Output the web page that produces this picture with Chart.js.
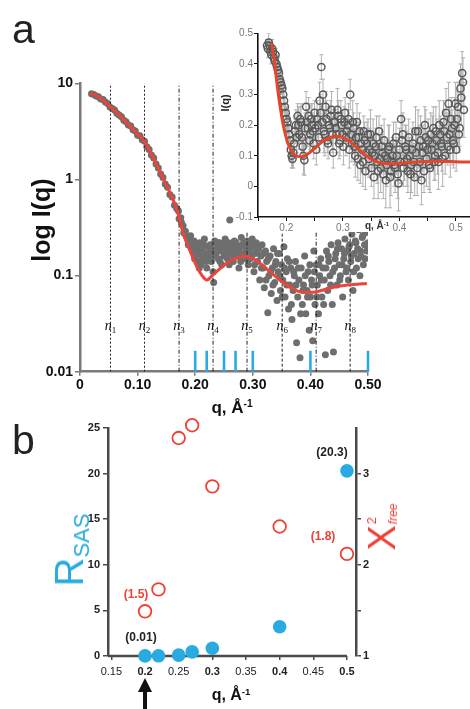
<!DOCTYPE html>
<html><head><meta charset="utf-8">
<script src="https://cdn.jsdelivr.net/npm/chart.js@4.4.1/dist/chart.umd.min.js"></script>
<style>
html,body{margin:0;padding:0;background:#fff;}
body{width:470px;height:709px;position:relative;overflow:hidden;font-family:"Liberation Sans",Arial,sans-serif;}
canvas{position:absolute;}
.t{position:absolute;white-space:nowrap;line-height:1;}
.c{transform:translate(-50%,-50%);}
.rot{transform:translate(-50%,-50%) rotate(-90deg);}
sup{font-size:60%;vertical-align:0;position:relative;top:-0.55em;}
</style></head>
<body>
<canvas id="ca" width="470" height="420" style="left:0;top:0"></canvas>
<canvas id="ci" width="246" height="224" style="left:234px;top:8px"></canvas>
<canvas id="cb" width="470" height="294" style="left:0;top:415px"></canvas>

<div class="t" style="left:12px;top:9px;font-size:41px;color:#222">a</div>
<div class="t" style="left:12px;top:420px;font-size:41px;color:#222">b</div>
<div class="t rot" style="left:41px;top:220px;font-size:25px;font-weight:bold;color:#111">log I(q)</div>
<div class="t c" style="left:232px;top:407px;font-size:17px;font-weight:bold;color:#111">q, Å<sup>-1</sup></div>
<div class="t rot" style="left:225px;top:103px;font-size:11px;font-weight:bold;color:#222">I(q)</div>
<div class="t c" style="left:377px;top:226px;font-size:10px;font-weight:bold;color:#333">q, Å<sup>-1</sup></div>
<div class="t c" style="left:231px;top:695px;font-size:16px;font-weight:bold;color:#111">q, Å<sup>-1</sup></div>
<div class="t rot" style="left:69px;top:550px;color:#29abe2"><span style="font-size:40px">R</span><span style="font-size:22px;position:relative;top:6px">SAS</span></div>
<div class="t rot" style="left:382px;top:527px;color:#ee4136"><span style="font-size:38px;vertical-align:middle">Χ</span><span style="display:inline-block;vertical-align:middle;line-height:1;text-align:left;margin-left:1px"><span style="font-size:13px;display:block">2</span><span style="font-size:12px;font-style:italic;display:block;margin-top:9px">free</span></span></div>

<script>
// ---------- Panel a: main SAXS profile (log scale) ----------
const dataQ = [0.020,0.024,0.028,0.032,0.036,0.040,0.044,0.048,0.052,0.056,0.060,0.064,0.068,0.072,0.076,0.080,0.084,0.088,0.092,0.096,0.100,0.104,0.108,0.112,0.116,0.120,0.124,0.128,0.132,0.136,0.140,0.144,0.148,0.152,0.156,0.160,0.164,0.168,0.172,0.176,0.180,0.184,0.188,
 0.192,0.194,0.196,0.198,0.200,0.202,0.204,0.206,0.208,0.210,
 0.212,0.214,0.216,0.218,0.220,0.222,0.224,0.226,0.228,0.230,
 0.232,0.234,0.236,0.238,0.240,0.242,0.244,0.246,0.248,0.250,
 0.252,0.254,0.256,0.258,0.260,0.262,0.264,0.266,0.268,0.270,
 0.272,0.274,0.276,0.278,0.280,0.282,0.284,0.286,0.288,0.290,
 0.292,0.294,0.296,0.298,0.300,0.302,0.304,0.306,0.308,0.310,
 0.312,0.314,0.316,0.318,0.320,0.322,0.324,0.326,0.328,0.330,
 0.332,0.334,0.336,0.338,0.340,0.342,0.344,0.346,0.348,0.350,
 0.352,0.354,0.356,0.358,0.360,0.362,0.364,0.366,0.368,0.370,
 0.372,0.374,0.376,0.378,0.380,0.382,0.384,0.386,0.388,0.390,
 0.392,0.394,0.396,0.398,0.400,0.402,0.404,0.406,0.408,0.410,
 0.412,0.414,0.416,0.418,0.420,0.422,0.424,0.426,0.428,0.430,
 0.432,0.434,0.436,0.438,0.440,0.442,0.444,0.446,0.448,0.450,
 0.452,0.454,0.456,0.458,0.460,0.462,0.464,0.466,0.468,0.470,
 0.472,0.474,0.476,0.478,0.480,0.482,0.484,0.486,0.488,0.490,
 0.492,0.494,0.496,0.498,0.500];
const dataI = [7.8,7.7,7.4,7.3,6.9,6.8,6.4,6.2,5.7,5.5,5.3,4.9,4.7,4.5,4.15,4.0,3.7,3.6,3.3,3.2,2.9,2.85,2.6,2.5,2.2,2.05,1.8,1.68,1.45,1.32,1.14,1.05,0.90,0.83,0.70,0.66,0.54,0.50,0.39,0.36,0.28,0.26,0.21,
 0.26,0.21,0.18,0.23,0.16,0.20,0.14,0.17,0.22,0.13,
 0.19,0.15,0.24,0.17,0.12,0.20,0.16,0.21,0.14,0.18,
 0.085,0.23,0.17,0.20,0.15,0.22,0.18,0.13,0.21,0.16,
 0.24,0.19,0.15,0.22,0.38,0.17,0.20,0.14,0.23,0.18,
 0.21,0.16,0.12,0.20,0.25,0.17,0.22,0.15,0.19,0.23,
 0.13,0.18,0.21,0.16,0.20,0.11,0.17,0.22,0.14,0.19,
 0.09,0.16,0.21,0.12,0.075,0.18,0.14,0.041,0.10,0.16,
 0.065,0.12,0.19,0.085,0.14,0.055,0.11,0.17,0.07,0.13,
 0.09,0.20,0.06,0.11,0.15,0.045,0.08,0.12,0.035,0.07,
 0.10,0.14,0.02,0.06,0.09,0.014,0.12,0.05,0.08,0.16,
 0.04,0.07,0.11,0.027,0.06,0.09,0.021,0.18,0.05,0.13,
 0.08,0.04,0.10,0.15,0.06,0.12,0.09,0.015,0.18,0.07,
 0.14,0.10,0.21,0.05,0.016,0.12,0.17,0.08,0.22,0.13,
 0.10,0.19,0.06,0.15,0.24,0.11,0.18,0.09,0.21,0.14,
 0.27,0.07,0.17,0.23,0.12,0.19,0.30,0.10,0.16,0.25,
 0.13,0.21,0.28,0.18,0.22];
// extra interleaved measured points (dense band between q = 0.19 and 0.30, and high-q cloud)
const dataQ2 = [0.171,0.175,0.179,0.183,0.187,0.191,0.195,0.199,0.203,0.207,0.211,0.215,0.219,0.223,0.227,0.231,0.235,0.239,0.243,0.247,
 0.251,0.255,0.259,0.263,0.267,0.271,0.275,0.279,0.283,0.287,0.291,0.295,0.299,0.303,0.307,0.311,0.315,0.319,0.323,0.327,
 0.331,0.335,0.339,0.343,0.347,0.351,0.355,0.359,0.363,0.367,0.371,0.375,0.379,0.383,0.387,0.391,0.395,0.399,0.403,0.407,
 0.411,0.415,0.419,0.423,0.427,0.431,0.435,0.439,0.443,0.447,0.451,0.455,0.459,0.463,0.467,0.471,0.475,0.479,0.483,0.487,
 0.491,0.495,0.499];
const dataI2 = [0.47,0.40,0.33,0.29,0.24,0.22,0.19,0.15,0.18,0.12,0.16,0.21,0.14,0.17,0.19,0.11,0.16,0.22,0.14,0.19,
 0.17,0.21,0.13,0.18,0.16,0.22,0.19,0.14,0.21,0.17,0.20,0.15,0.24,0.13,0.18,0.20,0.12,0.17,0.09,0.15,
 0.11,0.08,0.13,0.17,0.10,0.06,0.12,0.08,0.14,0.05,0.11,0.08,0.12,0.04,0.07,0.10,0.06,0.13,0.08,0.11,
 0.06,0.13,0.09,0.05,0.12,0.16,0.08,0.11,0.15,0.19,0.09,0.13,0.17,0.12,0.20,0.16,0.11,0.22,0.15,0.18,
 0.26,0.15,0.20];
const fitQ = [0.017,0.030,0.042,0.053,0.066,0.080,0.095,0.112,0.128,0.145,0.162,0.171,0.179,0.188,0.196,0.204,0.212,0.220,0.231,0.243,0.255,0.270,0.283,0.298,0.3125,0.330,0.347,0.365,0.382,0.400,0.411,0.430,0.451,0.475,0.498];
const fitI = [7.9,7.4,6.6,5.7,4.85,3.95,3.2,2.48,1.65,1.0,0.61,0.43,0.277,0.20,0.153,0.12,0.10,0.090,0.102,0.118,0.135,0.150,0.159,0.152,0.135,0.110,0.090,0.076,0.068,0.067,0.068,0.073,0.078,0.081,0.083];
const nQ = [0.053,0.112,0.172,0.231,0.290,0.351,0.410,0.469];       // n1..n8 shell positions
const nNames = ['1','2','3','4','5','6','7','8'];
const yTicksA = [0.01,0.1,1,10];
const xTicksA = [0,0.1,0.2,0.3,0.4,0.5];

// ---------- Inset: linear I(q) with error bars ----------
const insetQ = [0.166,0.169,0.172,0.175,0.178,0.181,0.184,0.187,0.190,0.193,
 0.196,0.199,0.202,0.205,0.208,0.211,0.214,0.217,0.220,0.223,
 0.226,0.229,0.232,0.235,0.238,0.241,0.244,0.247,0.250,0.253,
 0.256,0.259,0.262,0.265,0.268,0.271,0.274,0.277,0.280,0.283,
 0.286,0.289,0.292,0.295,0.298,0.301,0.304,0.307,0.310,0.313,
 0.316,0.319,0.322,0.325,0.328,0.331,0.334,0.337,0.340,0.343,
 0.346,0.349,0.352,0.355,0.358,0.361,0.364,0.367,0.370,0.373,
 0.376,0.379,0.382,0.385,0.388,0.391,0.394,0.397,0.400,0.403,
 0.406,0.409,0.412,0.415,0.418,0.421,0.424,0.427,0.430,0.433,
 0.436,0.439,0.442,0.445,0.448,0.451,0.454,0.457,0.460,0.463,
 0.466,0.469,0.472,0.475,0.478,0.481,0.484,0.487,0.490,0.493,
 0.496,0.499,0.502,0.505,0.508,0.511,0.514];
const insetI = [0.46,0.47,0.44,0.45,0.42,0.43,0.39,0.37,0.34,0.32,
 0.28,0.24,0.21,0.17,0.12,0.09,0.14,0.20,0.23,0.17,
 0.21,0.13,0.086,0.26,0.19,0.15,0.22,0.18,0.24,0.12,
 0.20,0.28,0.39,0.30,0.17,0.22,0.14,0.19,0.25,0.11,
 0.21,0.17,0.23,0.15,0.20,0.13,0.24,0.18,0.22,0.30,
 0.14,0.19,0.10,0.21,0.16,0.07,0.12,0.18,0.05,0.14,
 0.09,0.17,0.11,0.03,0.13,0.08,0.18,0.06,0.11,0.15,
 0.02,0.09,0.13,0.05,0.10,0.07,0.16,0.04,0.12,0.22,
 0.17,0.08,0.12,0.05,0.10,0.07,0.14,0.03,0.11,0.18,
 0.08,0.02,0.13,0.20,0.09,0.15,0.06,0.12,0.19,0.10,
 0.15,0.08,0.17,0.13,0.21,0.10,0.16,0.27,0.12,0.19,
 0.14,0.27,0.22,0.17,0.32,0.37,0.25];
const insetErr = [0.02,0.03,0.02,0.03,0.03,0.02,0.03,0.03,0.04,0.03,
 0.04,0.03,0.04,0.03,0.04,0.03,0.04,0.05,0.04,0.05,
 0.06,0.04,0.05,0.05,0.06,0.04,0.05,0.06,0.04,0.05,
 0.05,0.06,0.04,0.05,0.07,0.06,0.05,0.04,0.06,0.05,
 0.04,0.06,0.05,0.05,0.04,0.06,0.05,0.04,0.05,0.05,
 0.06,0.05,0.07,0.06,0.05,0.06,0.07,0.05,0.06,0.07,
 0.06,0.08,0.05,0.07,0.06,0.07,0.05,0.08,0.06,0.07,
 0.09,0.06,0.07,0.08,0.06,0.07,0.05,0.08,0.07,0.06,
 0.07,0.06,0.08,0.07,0.06,0.09,0.07,0.06,0.08,0.07,
 0.06,0.08,0.07,0.06,0.09,0.07,0.08,0.06,0.07,0.08,
 0.07,0.09,0.06,0.08,0.07,0.06,0.08,0.07,0.09,0.06,
 0.08,0.07,0.09,0.06,0.08,0.07,0.09];
const insetQ2 = [0.1675,0.1705,0.1735,0.1765,0.1795,0.1825,0.1855,0.1885,0.1915,0.1945,
 0.1975,0.2005,0.2035,0.2065,0.2095,0.2125,0.2155,0.2185,0.2215,0.2245,
 0.2275,0.2305,0.2335,0.2365,0.2395,0.2425,0.2455,0.2485,0.2515,0.2545,
 0.2575,0.2605,0.2635,0.2665,0.2695,0.2725,0.2755,0.2785,0.2815,0.2845,
 0.2875,0.2905,0.2935,0.2965,0.2995,0.3025,0.3055,0.3085,0.3115,0.3145,
 0.3175,0.3205,0.3235,0.3265,0.3295,0.3325,0.3355,0.3385,0.3415,0.3445,
 0.3475,0.3505,0.3535,0.3565,0.3595,0.3625,0.3655,0.3685,0.3715,0.3745,
 0.3775,0.3805,0.3835,0.3865,0.3895,0.3925,0.3955,0.3985,0.4015,0.4045,
 0.4075,0.4105,0.4135,0.4165,0.4195,0.4225,0.4255,0.4285,0.4315,0.4345,
 0.4375,0.4405,0.4435,0.4465,0.4495,0.4525,0.4555,0.4585,0.4615,0.4645,
 0.4675,0.4705,0.4735,0.4765,0.4795,0.4825,0.4855,0.4885,0.4915,0.4945,
 0.4975,0.5005,0.5035,0.5065,0.5095,0.5125];
const insetI2 = [0.45,0.46,0.43,0.44,0.41,0.40,0.38,0.35,0.33,0.30,
 0.26,0.22,0.19,0.15,0.10,0.11,0.18,0.16,0.20,0.22,
 0.16,0.10,0.19,0.21,0.23,0.17,0.20,0.14,0.19,0.22,
 0.16,0.24,0.21,0.18,0.26,0.15,0.20,0.23,0.17,0.21,
 0.19,0.25,0.14,0.22,0.17,0.21,0.16,0.20,0.12,0.17,
 0.21,0.13,0.16,0.09,0.18,0.14,0.08,0.15,0.11,0.17,
 0.12,0.06,0.14,0.10,0.16,0.05,0.09,0.13,0.04,0.10,
 0.07,0.12,0.03,0.08,0.14,0.06,0.10,0.01,0.08,0.15,
 0.06,0.13,0.09,0.16,0.04,0.12,0.08,0.18,0.06,0.13,
 0.15,0.11,0.05,0.16,0.12,0.07,0.17,0.14,0.08,0.18,
 0.11,0.20,0.14,0.09,0.18,0.24,0.13,0.17,0.22,0.15,
 0.20,0.12,0.26,0.19,0.29,0.34];
const insetErr2 = [0.03,0.02,0.03,0.02,0.03,0.03,0.04,0.03,0.03,0.04,
 0.03,0.04,0.04,0.05,0.04,0.05,0.04,0.05,0.06,0.04,
 0.05,0.06,0.05,0.04,0.06,0.05,0.07,0.05,0.04,0.06,
 0.05,0.06,0.05,0.07,0.05,0.04,0.06,0.05,0.06,0.04,
 0.05,0.07,0.05,0.06,0.04,0.05,0.06,0.05,0.06,0.05,
 0.07,0.06,0.05,0.07,0.06,0.05,0.08,0.06,0.07,0.05,
 0.07,0.06,0.08,0.06,0.07,0.09,0.06,0.07,0.08,0.06,
 0.07,0.08,0.10,0.06,0.07,0.08,0.06,0.09,0.07,0.08,
 0.06,0.07,0.09,0.06,0.08,0.07,0.06,0.08,0.09,0.07,
 0.08,0.06,0.07,0.09,0.06,0.08,0.07,0.09,0.06,0.08,
 0.07,0.08,0.06,0.09,0.07,0.08,0.06,0.09,0.07,0.08,
 0.09,0.07,0.08,0.06,0.09,0.08];
const insetFitQ = [0.174,0.178,0.182,0.186,0.190,0.194,0.199,0.204,0.212,0.220,0.227,0.235,0.245,0.255,0.265,0.276,0.287,0.298,0.310,0.320,0.330,0.340,0.350,0.362,0.374,0.390,0.405,0.425,0.445,0.465,0.490,0.515,0.533];
const insetFitI = [0.467,0.42,0.36,0.30,0.25,0.206,0.165,0.135,0.108,0.098,0.097,0.102,0.116,0.132,0.148,0.159,0.164,0.161,0.150,0.135,0.118,0.102,0.089,0.079,0.075,0.074,0.076,0.079,0.081,0.082,0.081,0.080,0.080];

// ---------- Panel b: R_SAS and chi^2_free vs q cut-off ----------
const bQ = [0.20,0.22,0.25,0.27,0.30,0.40,0.50];
const rsas = [0.01,0.02,0.10,0.45,0.85,3.2,20.3];
const chiFree = [1.49,1.73,3.39,3.53,2.86,2.42,2.12];
const rsasNotes = ['(0.01)','','','','','','(20.3)'];
const chiNotes = ['(1.5)','','','','','','(1.8)'];

Chart.defaults.font.family = '"Liberation Sans", Arial, sans-serif';
Chart.defaults.animation = false;

const FONT = '"Liberation Sans", Arial, sans-serif';
const BLUE = '#29abe2', RED = '#ee4136';

// ===== Panel a main =====
const nDash = [[2,2],[2,2],[4,2,1,2],[4,2,1,2],[4,2,1,2],[3,2],[4,2,1,2],[3,2]];
const nLabelLevel = 0.027, blueTop = 0.0165;
const nLabelPlugin = {
  id:'nLabels',
  afterDatasetsDraw(chart){
    const {ctx, scales:{x,y}} = chart;
    ctx.save(); ctx.fillStyle='#111'; ctx.textBaseline='alphabetic';
    nQ.forEach((q,i)=>{
      const px=x.getPixelForValue(q), py=y.getPixelForValue(nLabelLevel);
      ctx.font='italic 14px "Liberation Serif", serif'; const w1=ctx.measureText('n').width;
      ctx.font='9px "Liberation Serif", serif'; const w2=ctx.measureText(nNames[i]).width;
      const left=px-(w1+w2)/2;
      ctx.font='italic 14px "Liberation Serif", serif'; ctx.fillText('n',left,py);
      ctx.font='9px "Liberation Serif", serif'; ctx.fillText(nNames[i],left+w1,py+3);
    });
    ctx.restore();
  }
};
const greyDots = {type:'scatter', pointRadius:3.5, pointBackgroundColor:'#6e6e6e', pointBorderWidth:0, order:3};
const dsA = [
  {type:'line', data:fitQ.map((q,i)=>({x:q,y:fitI[i]})), borderColor:'#e8453c', borderWidth:3, pointRadius:0, cubicInterpolationMode:'monotone', order:0},
  Object.assign({data:dataQ.map((q,i)=>({x:q,y:dataI[i]}))}, greyDots),
  Object.assign({data:dataQ2.map((q,i)=>({x:q,y:dataI2[i]}))}, greyDots),
];
nQ.forEach((q,i)=>dsA.push({type:'line', data:[{x:q,y:0.01},{x:q,y:10}], borderColor:'#222', borderWidth:1, borderDash:nDash[i], pointRadius:0, order:2}));
bQ.forEach(q=>dsA.push({type:'line', data:[{x:q,y:0.01},{x:q,y:blueTop}], borderColor:BLUE, borderWidth:2.6, pointRadius:0, clip:false, order:1}));

new Chart(document.getElementById('ca'), {
  type:'scatter',
  data:{datasets:dsA},
  options:{
    responsive:false, animation:false,
    plugins:{legend:{display:false}, tooltip:{enabled:false}},
    layout:{padding:{left:0,right:102,top:83.5,bottom:0}},
    scales:{
      x:{type:'linear', min:0, max:0.5,
        afterFit(s){s.height=48.3;},
        afterBuildTicks(s){s.ticks=xTicksA.map(v=>({value:v}));},
        border:{display:true,color:'#7a7a7a',width:2.5},
        grid:{drawOnChartArea:false, drawTicks:true, tickLength:4, color:'#7a7a7a', lineWidth:1.5},
        ticks:{padding:1, color:'#111', font:{family:FONT,size:14,weight:'bold'}, maxRotation:0,
          callback:v=> v===0?'0':v.toFixed(2)}},
      y:{type:'logarithmic', min:0.01, max:10,
        afterFit(s){s.width=80;},
        afterBuildTicks(s){s.ticks=yTicksA.map(v=>({value:v}));},
        border:{display:true,color:'#7a7a7a',width:2.5},
        grid:{drawOnChartArea:false, drawTicks:true, tickLength:5, color:'#7a7a7a', lineWidth:1.5},
        ticks:{padding:2, color:'#111', font:{family:FONT,size:14,weight:'bold'},
          callback:v=>String(v)}}
    }
  },
  plugins:[nLabelPlugin]
});

// ===== Inset =====
const whiteBg = {id:'whiteBg', beforeDraw(c){const x=c.ctx; x.save(); x.fillStyle='#fff'; x.fillRect(0,0,c.width,c.height); x.restore();}};
function drawErr(ctx,x,y,qs,is,es){
  qs.forEach((q,i)=>{
    const px=x.getPixelForValue(q);
    const y1=y.getPixelForValue(is[i]-es[i]), y2=y.getPixelForValue(is[i]+es[i]);
    ctx.beginPath(); ctx.moveTo(px,y1); ctx.lineTo(px,y2);
    ctx.moveTo(px-2,y1); ctx.lineTo(px+2,y1); ctx.moveTo(px-2,y2); ctx.lineTo(px+2,y2); ctx.stroke();
  });
}
const errBars = {
  id:'errBars',
  beforeDatasetsDraw(chart){
    const {ctx, chartArea:a, scales:{x,y}} = chart;
    ctx.save(); ctx.beginPath(); ctx.rect(a.left,a.top,a.right-a.left,a.bottom-a.top); ctx.clip();
    ctx.strokeStyle='#b0b0b0'; ctx.lineWidth=1;
    drawErr(ctx,x,y,insetQ,insetI,insetErr);
    drawErr(ctx,x,y,insetQ2,insetI2,insetErr2);
    ctx.restore();
  }
};
const openCircles = {type:'scatter', pointRadius:3.6, pointBorderWidth:1.5, pointBorderColor:'#595959', pointBackgroundColor:'rgba(0,0,0,0)', order:1};
new Chart(document.getElementById('ci'), {
  type:'scatter',
  data:{datasets:[
    {type:'line', data:insetFitQ.map((q,i)=>({x:q,y:insetFitI[i]})), borderColor:'#e4462c', borderWidth:3, pointRadius:0, cubicInterpolationMode:'monotone', order:0},
    Object.assign({data:insetQ.map((q,i)=>({x:q,y:insetI[i]}))}, openCircles),
    Object.assign({data:insetQ2.map((q,i)=>({x:q,y:insetI2[i]}))}, openCircles)
  ]},
  options:{
    responsive:false, animation:false,
    plugins:{legend:{display:false}, tooltip:{enabled:false}},
    layout:{padding:{left:0,right:0,top:25.3,bottom:0}},
    scales:{
      x:{type:'linear', min:0.15, max:0.5328,
        afterFit(s){s.height=15;},
        border:{display:true,color:'#111',width:1.6},
        grid:{drawOnChartArea:false, tickLength:4, color:'#111', lineWidth:1},
        ticks:{stepSize:0.05, includeBounds:false, padding:1, color:'#777', font:{family:FONT,size:10}, maxRotation:0,
          callback:v=> (Math.round(v*100)%10===0)? (Math.round(v*10)/10).toFixed(1) : ''}},
      y:{type:'linear', min:-0.1, max:0.5,
        afterFit(s){s.width=24;},
        border:{display:true,color:'#111',width:1.6},
        grid:{drawOnChartArea:false, tickLength:4, color:'#111', lineWidth:1},
        ticks:{stepSize:0.1, padding:1, color:'#777', font:{family:FONT,size:10},
          callback:v=>{const r=Math.round(v*10)/10; return r===0?'0':r.toFixed(1);}}}
    }
  },
  plugins:[whiteBg, errBars]
});

// ===== Panel b =====
const bExtras = {
  id:'bExtras',
  beforeDatasetsDraw(chart){
    const {ctx, chartArea:a, scales:{x,y}} = chart;
    ctx.save(); ctx.strokeStyle='#4a4a4a'; ctx.lineWidth=2.5;
    const y0=y.getPixelForValue(0);
    ctx.beginPath(); ctx.moveTo(a.left,y0); ctx.lineTo(x.getPixelForValue(bQ[bQ.length-1]),y0); ctx.stroke();
    ctx.restore();
  },
  afterDatasetsDraw(chart){
    const {ctx, scales:{x,y,y2}} = chart;
    ctx.save(); ctx.textAlign='center'; ctx.textBaseline='middle';
    ctx.font='bold 12px '+FONT;
    ctx.fillStyle='#222';
    rsasNotes.forEach((t,i)=>{ if(!t) return; const dx = i===0?-4:-15;
      ctx.fillText(t, x.getPixelForValue(bQ[i])+dx, y.getPixelForValue(rsas[i])-18); });
    ctx.fillStyle=RED;
    chiNotes.forEach((t,i)=>{ if(!t) return; const dx = i===0?-9:-24;
      ctx.fillText(t, x.getPixelForValue(bQ[i])+dx, y2.getPixelForValue(chiFree[i])-17); });
    // arrow marking the chosen cut-off q
    const ax = x.getPixelForValue(bQ[0]); const tip = y.getPixelForValue(0)+22;
    ctx.fillStyle='#111';
    ctx.beginPath(); ctx.moveTo(ax,tip); ctx.lineTo(ax-7,tip+14); ctx.lineTo(ax+7,tip+14); ctx.closePath(); ctx.fill();
    ctx.fillRect(ax-2,tip+13,4,40);
    ctx.restore();
  }
};
new Chart(document.getElementById('cb'), {
  type:'scatter',
  data:{datasets:[
    {label:'chi2free', data:bQ.map((q,i)=>({x:q,y:chiFree[i]})), yAxisID:'y2', pointRadius:6.3, pointBorderWidth:1.8, pointBorderColor:RED, pointBackgroundColor:'rgba(255,255,255,0)', clip:false},
    {label:'Rsas', data:bQ.map((q,i)=>({x:q,y:rsas[i]})), yAxisID:'y', pointRadius:6.8, pointBackgroundColor:BLUE, pointBorderWidth:0, clip:false}
  ]},
  options:{
    responsive:false, animation:false,
    plugins:{legend:{display:false}, tooltip:{enabled:false}},
    layout:{padding:{left:0,right:0,top:13,bottom:0}},
    scales:{
      x:{type:'linear', min:0.145, max:0.5134,
        afterFit(s){s.height=53;},
        border:{display:false},
        grid:{drawOnChartArea:false, tickLength:4, color:'#4a4a4a', lineWidth:1.5},
        ticks:{stepSize:0.05, includeBounds:false, padding:5, color:'#222', maxRotation:0,
          font:(c)=>({family:FONT, size:11, weight:(c.tick && Math.round(c.tick.value*100)%10===0)?'bold':'normal'}),
          callback:v=>String(parseFloat(v.toFixed(2)))}},
      y:{position:'left', min:0, max:25,
        afterFit(s){s.width=108;},
        border:{display:true,color:'#4a4a4a',width:2.5},
        grid:{drawOnChartArea:false, tickLength:5, color:'#4a4a4a', lineWidth:1.5},
        ticks:{stepSize:5, padding:3, color:'#222', font:{family:FONT,size:11,weight:'bold'}}},
      y2:{position:'right', min:1, max:3.5,
        afterFit(s){s.width=114;},
        border:{display:true,color:'#4a4a4a',width:2.5},
        grid:{drawOnChartArea:false, tickLength:5, lineWidth:1.5,
          color:(c)=> (c.tick && c.tick.value===3.5)?'rgba(0,0,0,0)':'#4a4a4a'},
        ticks:{stepSize:0.5, padding:2, color:'#222', font:{family:FONT,size:11,weight:'bold'},
          callback:v=> Number.isInteger(v)?String(v):''}}
    }
  },
  plugins:[bExtras]
});
</script>
</body></html>
